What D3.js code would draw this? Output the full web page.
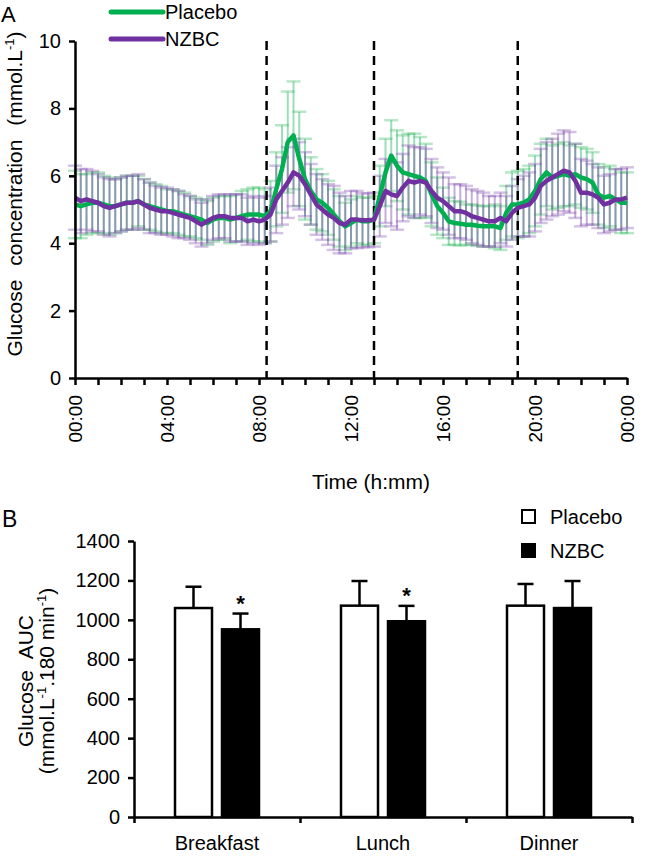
<!DOCTYPE html>
<html><head><meta charset="utf-8">
<script src="https://cdn.jsdelivr.net/npm/d3@7"></script>
<style>
body{margin:0;background:#fff;}
text{font-family:"Liberation Sans",Arial,sans-serif;fill:#000;}
</style></head>
<body><svg id="c" width="646" height="861"></svg>
<script>
// ---------- DATA: panel A (15-min resolution, 00:00 to 24:00) ----------
const timeStepMin = 15;
const placeboMean = [5.15,5.10,5.15,5.20,5.20,5.15,5.10,5.10,5.15,5.20,5.20,5.25,5.15,5.10,5.05,5.00,
4.95,4.95,4.90,4.85,4.80,4.75,4.70,4.60,4.70,4.75,4.75,4.70,4.75,4.80,4.85,4.85,
4.85,4.80,4.95,5.60,6.20,7.00,7.20,6.50,5.90,5.55,5.30,5.20,5.05,4.85,4.65,4.50,
4.60,4.70,4.65,4.65,4.70,5.40,6.10,6.60,6.30,6.10,6.05,6.00,5.95,5.85,5.45,5.10,
4.90,4.65,4.60,4.58,4.55,4.55,4.52,4.50,4.50,4.50,4.45,4.90,5.15,5.15,5.20,5.30,
5.55,5.90,6.10,5.95,6.00,6.05,6.00,6.05,5.95,5.90,5.80,5.45,5.35,5.40,5.30,5.20,5.20];
const nzbcMean = [5.35,5.25,5.30,5.25,5.20,5.10,5.05,5.10,5.15,5.20,5.20,5.25,5.15,5.05,5.00,4.95,
4.95,4.90,4.85,4.80,4.75,4.65,4.55,4.65,4.75,4.80,4.80,4.75,4.75,4.75,4.65,4.70,
4.65,4.70,4.85,5.30,5.55,5.80,6.10,6.00,5.75,5.45,5.15,5.00,4.85,4.75,4.60,4.55,
4.70,4.70,4.68,4.68,4.70,5.10,5.55,5.45,5.40,5.65,5.85,5.80,5.85,5.80,5.55,5.35,
5.25,5.10,4.95,4.95,4.90,4.80,4.75,4.70,4.65,4.65,4.75,4.65,4.90,5.05,5.10,5.15,
5.35,5.70,5.85,5.95,6.05,6.15,6.10,5.85,5.50,5.50,5.45,5.35,5.15,5.20,5.30,5.30,5.35];
const placeboSD = [1.0,0.95,0.9,0.9,0.9,0.85,0.85,0.8,0.8,0.8,0.8,0.75,0.75,0.7,0.7,0.7,
0.65,0.65,0.65,0.65,0.6,0.6,0.6,0.65,0.65,0.65,0.65,0.7,0.7,0.75,0.75,0.8,
0.8,0.8,0.9,1.1,1.3,1.5,1.6,1.4,1.2,1.0,0.9,0.85,0.8,0.75,0.75,0.7,
0.7,0.7,0.7,0.7,0.7,0.9,1.0,1.05,1.05,1.1,1.2,1.25,1.2,1.1,0.95,0.85,
0.75,0.7,0.65,0.65,0.6,0.6,0.6,0.6,0.6,0.65,0.65,0.8,0.95,1.0,1.0,1.0,
1.05,1.05,1.0,0.95,0.95,0.95,0.9,0.9,0.9,0.9,0.9,0.9,0.9,0.9,0.9,0.9,0.9];
const nzbcSD = [0.95,0.95,0.9,0.9,0.85,0.85,0.85,0.8,0.8,0.8,0.8,0.8,0.75,0.75,0.7,0.7,
0.7,0.7,0.7,0.65,0.65,0.65,0.65,0.65,0.65,0.65,0.65,0.7,0.7,0.7,0.7,0.7,
0.7,0.7,0.8,1.0,1.0,1.05,1.0,1.0,0.95,0.9,0.9,0.9,0.9,0.95,0.9,0.85,
0.85,0.85,0.8,0.8,0.8,0.9,0.95,0.95,1.0,1.0,1.05,1.05,1.0,1.0,0.95,0.9,
0.85,0.85,0.8,0.8,0.8,0.8,0.8,0.8,0.75,0.75,0.75,0.75,0.8,0.85,0.9,0.95,
1.0,1.1,1.15,1.15,1.2,1.2,1.2,1.1,1.0,0.95,0.9,0.9,0.85,0.85,0.9,0.9,0.9];
const mealTimesH = [8.33, 13.0, 19.25];
const yTicksA = [0,2,4,6,8,10];
const xTickLabelsA = ["00:00","04:00","08:00","12:00","16:00","20:00","00:00"];
const seriesNames = ["Placebo","NZBC"];

// ---------- DATA: panel B ----------
const meals = ["Breakfast","Lunch","Dinner"];
const aucPlacebo = [1060,1072,1072];
const aucPlaceboSD = [108,125,110];
const aucNZBC = [952,993,1060];
const aucNZBCSD = [80,78,137];
const aucSignificant = [true,true,false];
const yTicksB = [0,200,400,600,800,1000,1200,1400];

// ---------- DRAW ----------
const svg = d3.select("#c");
const green = "#00b050", purple = "#7030a0";
const FS = "20px";

// Panel A scales
const xA = d3.scaleLinear().domain([0,24]).range([75,627]);
const yA = d3.scaleLinear().domain([0,10]).range([378,41]);
const gA = svg.append("g");

function errBars(mean, sd, col, capCol){
  const g = gA.append("g");
  mean.forEach((m,i)=>{
    const x = xA(i*timeStepMin/60);
    g.append("line").attr("x1",x).attr("x2",x).attr("y1",yA(m-sd[i])).attr("y2",yA(m+sd[i]))
      .attr("stroke",col).attr("stroke-opacity",0.4).attr("stroke-width",2);
    [m-sd[i], m+sd[i]].forEach(v=>{
      g.append("line").attr("x1",x-7).attr("x2",x+7).attr("y1",yA(v)).attr("y2",yA(v))
        .attr("stroke",capCol).attr("stroke-opacity",0.4).attr("stroke-width",2.5);
    });
  });
}
errBars(placeboMean, placeboSD, green, "#4cc270");
errBars(nzbcMean, nzbcSD, purple, "#9466bb");

mealTimesH.forEach(t=>{
  gA.append("line").attr("x1",xA(t)).attr("x2",xA(t)).attr("y1",yA(10)).attr("y2",yA(0))
    .attr("stroke","#000").attr("stroke-width",2.5).attr("stroke-dasharray","9,6");
});

const lineA = d3.line().x((d,i)=>xA(i*timeStepMin/60)).y(d=>yA(d));
gA.append("path").datum(placeboMean).attr("d",lineA).attr("fill","none").attr("stroke",green).attr("stroke-width",4.5).attr("stroke-linejoin","round");
gA.append("path").datum(nzbcMean).attr("d",lineA).attr("fill","none").attr("stroke",purple).attr("stroke-width",4.5).attr("stroke-linejoin","round");

const yAxisA = d3.axisLeft(yA).tickValues(yTicksA).tickSize(6).tickSizeOuter(0).tickPadding(8);
const gy = gA.append("g").attr("transform",`translate(${xA(0)},0)`).call(yAxisA);
const xAxisA = d3.axisBottom(xA).tickValues(d3.range(0,25,1)).tickSize(7).tickSizeOuter(0).tickFormat(()=> "");
const gx = gA.append("g").attr("transform",`translate(0,${yA(0)})`).call(xAxisA);
[gy,gx].forEach(g=>{g.select(".domain").attr("stroke","#000").attr("stroke-width",2.5);
  g.selectAll(".tick line").attr("stroke","#000").attr("stroke-width",2.5);});
gy.selectAll(".tick text").style("font-size",FS).style("font-family","Liberation Sans, Arial");
xTickLabelsA.forEach((lab,i)=>{
  gA.append("text").attr("transform",`translate(${xA(i*4)},395) rotate(-90)`).attr("text-anchor","end")
    .attr("dy","0.35em").style("font-size","19px").text(lab);
});
gA.append("text").attr("x",371).attr("y",489).attr("text-anchor","middle").style("font-size","21px").text("Time (h:mm)");
const yl = gA.append("text").attr("transform","translate(22,194) rotate(-90)").attr("text-anchor","middle")
  .style("font-size","21px").style("word-spacing","8px");
yl.append("tspan").text("Glucose concentration (mmol.L");
yl.append("tspan").attr("dy","-8").style("font-size","13px").text("-1");
yl.append("tspan").attr("dy","8").text(")");
gA.append("text").attr("x",1).attr("y",22).style("font-size","22px").text("A");

[[green,12],[purple,39]].forEach(([c,y],i)=>{
  gA.append("line").attr("x1",111).attr("x2",163).attr("y1",y).attr("y2",y).attr("stroke",c).attr("stroke-width",5).attr("stroke-linecap","round");
  gA.append("text").attr("x",165).attr("y",y).attr("dy","0.35em").style("font-size",FS).text(seriesNames[i]);
});

// Panel B
const xB = d3.scaleBand().domain(meals).range([134,632]);
const yB = d3.scaleLinear().domain([0,1400]).range([817,541]);
const gB = svg.append("g");
const barW = 37, gap = 10;
meals.forEach((m,i)=>{
  const cx = xB(m)+xB.bandwidth()/2;
  const bars = [
    {v:aucPlacebo[i], sd:aucPlaceboSD[i], x:cx-gap/2-barW, fill:"#fff"},
    {v:aucNZBC[i], sd:aucNZBCSD[i], x:cx+gap/2, fill:"#000"}];
  bars.forEach(b=>{
    const bx = b.x+barW/2;
    gB.append("line").attr("x1",bx).attr("x2",bx).attr("y1",yB(b.v)).attr("y2",yB(b.v+b.sd)).attr("stroke","#000").attr("stroke-width",2.5);
    gB.append("line").attr("x1",bx-8).attr("x2",bx+8).attr("y1",yB(b.v+b.sd)).attr("y2",yB(b.v+b.sd)).attr("stroke","#000").attr("stroke-width",2.5);
    gB.append("rect").attr("x",b.x).attr("y",yB(b.v)).attr("width",barW).attr("height",yB(0)-yB(b.v))
      .attr("fill",b.fill).attr("stroke","#000").attr("stroke-width",2.5);
  });
  if(aucSignificant[i]){
    gB.append("text").attr("x",bars[1].x+barW/2).attr("y",yB(aucNZBC[i]+aucNZBCSD[i])-3).attr("text-anchor","middle")
      .style("font-size","22px").style("font-weight","bold").text("*");
  }
});
const yAxisB = d3.axisLeft(yB).tickValues(yTicksB).tickSize(6).tickSizeOuter(0).tickPadding(8).tickFormat(d3.format("d"));
const gyB = gB.append("g").attr("transform","translate(134,0)").call(yAxisB);
const xAxisB = d3.axisBottom(d3.scaleLinear().domain([0,3]).range([134,632])).tickValues([0,1,2,3]).tickSize(6).tickSizeOuter(0).tickFormat(()=> "");
const gxB = gB.append("g").attr("transform","translate(0,817)").call(xAxisB);
[gyB,gxB].forEach(g=>{g.select(".domain").attr("stroke","#000").attr("stroke-width",2.5);
  g.selectAll(".tick line").attr("stroke","#000").attr("stroke-width",2.5);});
gyB.selectAll(".tick text").style("font-size",FS).style("font-family","Liberation Sans, Arial");
meals.forEach(m=>{
  gB.append("text").attr("x",xB(m)+xB.bandwidth()/2).attr("y",850).attr("text-anchor","middle").style("font-size",FS).text(m);
});
gB.append("text").attr("transform","translate(33,681) rotate(-90)").attr("text-anchor","middle").style("font-size","21px").style("word-spacing","6px").text("Glucose AUC");
const ylB2 = gB.append("text").attr("transform","translate(54,681) rotate(-90)").attr("text-anchor","middle").style("font-size","21px");
ylB2.append("tspan").text("(mmol.L");
ylB2.append("tspan").attr("dy","-8").style("font-size","13px").text("-1");
ylB2.append("tspan").attr("dy","8").text(".180 min");
ylB2.append("tspan").attr("dy","-8").style("font-size","13px").text("-1");
ylB2.append("tspan").attr("dy","8").text(")");
gB.append("text").attr("x",2).attr("y",527).style("font-size","23px").text("B");
[["#fff",517],["#000",551]].forEach(([f,y],i)=>{
  gB.append("rect").attr("x",522).attr("y",y-7).attr("width",13).attr("height",13).attr("fill",f).attr("stroke","#000").attr("stroke-width",2);
  gB.append("text").attr("x",550).attr("y",y).attr("dy","0.35em").style("font-size",FS).text(seriesNames[i]);
});
</script></body></html>
